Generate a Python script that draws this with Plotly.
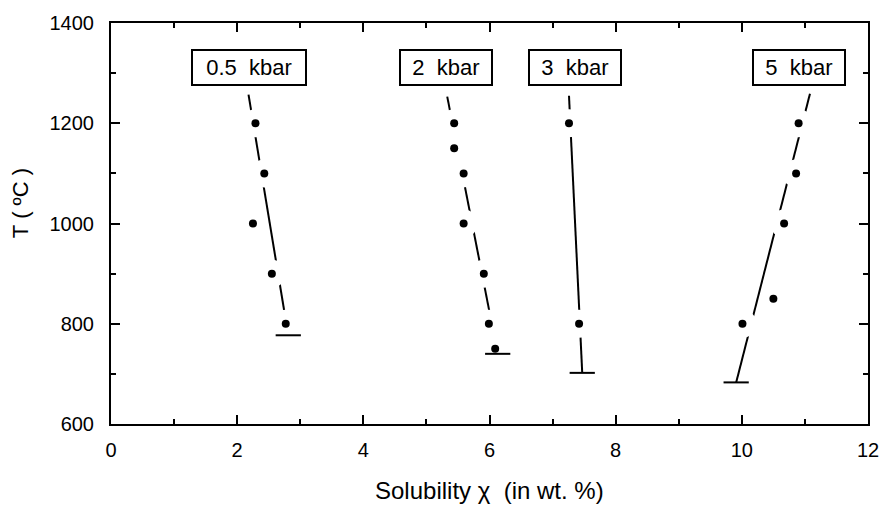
import plotly.graph_objects as go

# ---- data ----
labels = ["0.5\u00a0\u00a0kbar", "2\u00a0\u00a0kbar", "3\u00a0\u00a0kbar", "5\u00a0\u00a0kbar"]

x_05 = [2.29, 2.43, 2.25, 2.55, 2.77]
T_05 = [1200, 1100, 1000, 900, 800]

x_2 = [5.44, 5.44, 5.59, 5.59, 5.91, 5.99, 6.09]
T_2 = [1200, 1150, 1100, 1000, 900, 800, 750]

x_3 = [7.26, 7.42]
T_3 = [1200, 800]

x_5 = [10.90, 10.86, 10.67, 10.50, 10.01]
T_5 = [1200, 1100, 1000, 850, 800]

# fitted trend lines: (x_top, T_top, x_bottom, T_bottom)
fit_05 = [2.18, 1257, 2.81, 777]
fit_2 = [5.33, 1253, 6.13, 740]
fit_3 = [7.26, 1255, 7.47, 702]
fit_5 = [11.08, 1259, 9.91, 683]

# label anchors (data coordinates)
label_x = [2.19, 5.31, 7.36, 10.91]
label_T = 1312

x_ticks = [0, 2, 4, 6, 8, 10, 12]
T_ticks = [600, 800, 1000, 1200, 1400]

series = [(x_05, T_05, fit_05), (x_2, T_2, fit_2), (x_3, T_3, fit_3), (x_5, T_5, fit_5)]

FONT = "Liberation Sans, Arial, Helvetica, sans-serif"
PX_PER_X = 762.6 / 12.0
BAR_HALF = 0.2

fig = go.Figure()

# trend lines
for xs, Ts, f in series:
    fig.add_trace(go.Scatter(x=[f[0], f[2]], y=[f[1], f[3]], mode="lines",
                             line=dict(color="black", width=2),
                             hoverinfo="skip", showlegend=False))

# white halos that break the line around points lying on it
for xs, Ts, f in series:
    hx, hy = [], []
    for x, T in zip(xs, Ts):
        xl = f[0] + (f[1] - T) / (f[1] - f[3]) * (f[2] - f[0])
        if abs(x - xl) * PX_PER_X < 9.5:
            hx.append(x)
            hy.append(T)
    fig.add_trace(go.Scatter(x=hx, y=hy, mode="markers",
                             marker=dict(color="white", size=28, line=dict(width=0)),
                             hoverinfo="skip", showlegend=False))

# end bars
for xs, Ts, f in series:
    fig.add_trace(go.Scatter(x=[f[2] - BAR_HALF, f[2] + BAR_HALF], y=[f[3], f[3]],
                             mode="lines", line=dict(color="black", width=2),
                             hoverinfo="skip", showlegend=False))

# data points
for xs, Ts, f in series:
    fig.add_trace(go.Scatter(x=xs, y=Ts, mode="markers",
                             marker=dict(color="black", size=8),
                             showlegend=False))

# boxed labels
for lab, lx in zip(labels, label_x):
    w = 110 if lab.startswith("0.5") else 88
    fig.add_annotation(x=lx, y=label_T, xref="x", yref="y", text=lab,
                       showarrow=False, font=dict(family=FONT, size=22, color="black"),
                       bordercolor="black", borderwidth=2, borderpad=1,
                       bgcolor="white", width=w, height=31,
                       xanchor="center", yanchor="middle")

axis_common = dict(showgrid=False, zeroline=False, showline=True, linecolor="black",
                   linewidth=2, mirror="allticks", ticks="inside", ticklen=9,
                   tickwidth=2, tickcolor="black",
                   tickfont=dict(family=FONT, size=20, color="black"))

fig.update_xaxes(range=[0, 12], tickvals=x_ticks, ticklabelstandoff=7,
                 minor=dict(ticks="inside", ticklen=5, tickwidth=1.5, dtick=1,
                            tickcolor="black", showgrid=False),
                 **axis_common)
fig.update_yaxes(range=[600, 1400], tickvals=T_ticks, ticklabelstandoff=11,
                 minor=dict(ticks="inside", ticklen=5, tickwidth=1.5, dtick=100,
                            tickcolor="black", showgrid=False),
                 **axis_common)

# axis titles
fig.add_annotation(text="Solubility\u00a0χ\u00a0\u00a0(in\u00a0wt.\u00a0%)", xref="paper", yref="paper",
                   x=0.5, y=-0.165, showarrow=False, xanchor="center", yanchor="middle",
                   font=dict(family=FONT, size=24, color="black"))
fig.add_annotation(text="T\u00a0(\u00a0ºC\u00a0)", xref="paper", yref="paper",
                   x=-0.119, y=0.55, showarrow=False, xanchor="center", yanchor="middle",
                   textangle=-90, font=dict(family=FONT, size=22, color="black"))

fig.update_layout(width=891, height=506,
                  margin=dict(l=111, r=18, t=18, b=82),
                  paper_bgcolor="white", plot_bgcolor="white",
                  showlegend=False)

fig.write_html("out.html")
